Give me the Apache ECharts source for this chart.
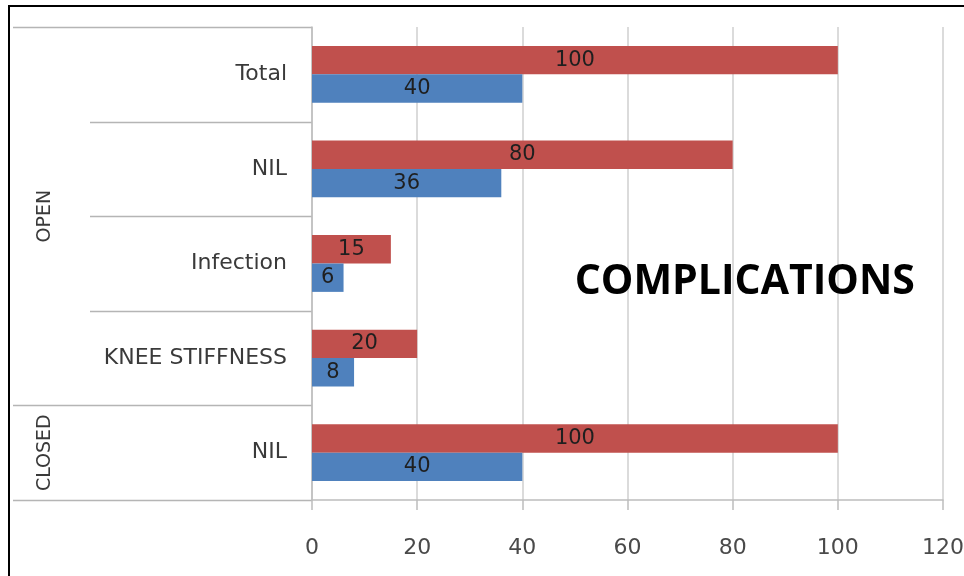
<!DOCTYPE html>
<html>
<head>
<meta charset="utf-8">
<script src="https://cdn.jsdelivr.net/npm/echarts@6/dist/echarts.min.js"></script>
<style>
html,body{margin:0;padding:0;background:#fff;}
#frame{position:absolute;left:8px;top:5px;width:960px;height:580px;border-left:2px solid #000;border-top:2px solid #000;}
#chart{position:absolute;left:0;top:0;width:964px;height:576px;}
</style>
</head>
<body>
<div id="frame"></div>
<div id="chart"></div>
<script>
// categories bottom to top
const categoryLabels = ['NIL', 'KNEE STIFFNESS', 'Infection', 'NIL', 'Total'];
const categoryGroups = ['CLOSED', 'OPEN', 'OPEN', 'OPEN', 'OPEN'];
const redValues = [100, 20, 15, 80, 100];
const blueValues = [40, 8, 6, 36, 40];
const xTicks = [0, 20, 40, 60, 80, 100, 120];
const titleText = 'COMPLICATIONS';

const categoryKeys = categoryLabels.map((l, i) => categoryGroups[i] + '|' + l + '|' + i);
const FONT = '"DejaVu Sans", Verdana, sans-serif';

const chart = echarts.init(document.getElementById('chart'), null, {renderer: 'canvas'});
const labelStyle = {show: true, position: 'inside', color: '#1f1f1f', fontSize: 21, fontFamily: FONT};

const option = {
  animation: false,
  grid: {left: 312, right: 21, top: 27, bottom: 76, containLabel: false, outerBoundsMode: 'none'},
  xAxis: {
    type: 'value', min: xTicks[0], max: xTicks[xTicks.length - 1], interval: 20,
    axisLine: {show: true, lineStyle: {color: '#bdbdbd', width: 1.5}},
    axisTick: {show: true, length: 10, lineStyle: {color: '#bdbdbd', width: 1.5}},
    splitLine: {show: true, lineStyle: {color: '#cfcfcf', width: 1.5}},
    axisLabel: {color: '#4a4a4a', fontSize: 22, margin: 37, fontFamily: FONT}
  },
  yAxis: {
    type: 'category', data: categoryKeys,
    axisLine: {show: true, lineStyle: {color: '#bdbdbd', width: 1.5}},
    axisTick: {show: false},
    axisLabel: {color: '#3a3a3a', fontSize: 22, margin: 25, fontFamily: FONT,
      formatter: v => v.split('|')[1]}
  },
  series: [
    {type: 'bar', name: 'red', data: redValues, barCategoryGap: '40%', barGap: '0%',
      itemStyle: {color: '#C0504D'}, label: labelStyle, z: 3},
    {type: 'bar', name: 'blue', data: blueValues, barCategoryGap: '40%', barGap: '0%',
      itemStyle: {color: '#4F81BD'}, label: labelStyle, z: 3}
  ]
};
chart.setOption(option);

// Group separators and labels, positioned from the axis scale
function drawGroups() {
  const yc = categoryKeys.map(k => chart.convertToPixel({yAxisIndex: 0}, k));
  const band = Math.abs(yc[0] - yc[1]);
  const x0 = chart.convertToPixel({xAxisIndex: 0}, 0);
  const bounds = [];
  for (let i = 0; i <= categoryKeys.length; i++) {
    const y = i < categoryKeys.length ? yc[i] + band / 2 : yc[categoryKeys.length - 1] - band / 2;
    const isGroupEdge = i === 0 || i === categoryKeys.length || categoryGroups[i] !== categoryGroups[i - 1];
    bounds.push({y, long: isGroupEdge});
  }
  const elements = bounds.map(b => ({
    type: 'line', silent: true,
    shape: {x1: b.long ? 13 : 90, y1: Math.round(b.y) + 0.5, x2: x0, y2: Math.round(b.y) + 0.5},
    style: {stroke: '#b5b5b5', lineWidth: 1.5}
  }));
  const groups = [];
  categoryGroups.forEach((g, i) => {
    const last = groups[groups.length - 1];
    if (last && last.name === g) { last.end = i; } else { groups.push({name: g, start: i, end: i}); }
  });
  groups.forEach(g => {
    const ymid = (yc[g.start] + yc[g.end]) / 2;
    elements.push({
      type: 'text', silent: true, x: 45, y: ymid, rotation: Math.PI / 2,
      style: {text: g.name, fill: '#3a3a3a', fontSize: 19, fontFamily: FONT, align: 'center', verticalAlign: 'middle'}
    });
  });
  elements.push({
    type: 'text', silent: true,
    x: chart.convertToPixel({xAxisIndex: 0}, 82.3),
    y: yc[2] + band * 0.2,
    style: {text: titleText, fill: '#000', fontSize: 41, fontWeight: 'bold', fontFamily: '"Open Sans", Arial, sans-serif', align: 'center', verticalAlign: 'middle'}
  });
  chart.setOption({graphic: {elements}});
}
drawGroups();
</script>
</body>
</html>
